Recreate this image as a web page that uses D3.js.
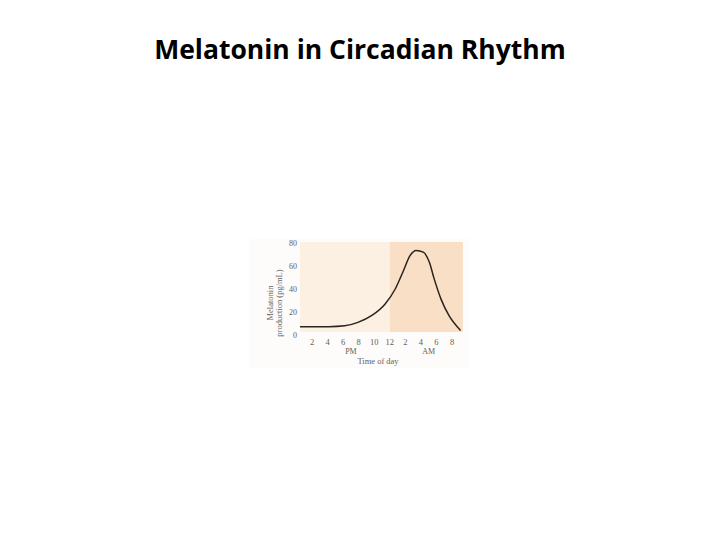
<!DOCTYPE html>
<html><head><meta charset="utf-8">
<script src="https://cdn.jsdelivr.net/npm/d3@7"></script>
<style>body{margin:0;background:#fff}svg{display:block}</style>
</head><body>
<svg id="c" width="720" height="540"></svg>
<script>
// hours after noon
const hours = [0.45, 2, 4.1, 6.2, 7.9, 9.7, 11.4, 12.7, 13.7, 14.6, 15.4, 16.3, 17.1, 17.7, 18.6, 19.6, 21.1];
const melatonin = [7.2, 7.1, 7.2, 8, 11, 17, 27, 40, 55, 69, 73.5, 72, 63, 49, 31, 17, 4];
const tickHours = [2, 4, 6, 8, 10, 12, 14, 16, 18, 20];
const tickLabels = ["2", "4", "6", "8", "10", "12", "2", "4", "6", "8"];
const yTicks = [0, 20, 40, 60, 80];
const yTickLabels = ["0", "20", "40", "60", "80"];
const nightStart = 12;

const svg = d3.select("#c");
svg.append("text").attr("x", 360).attr("y", 59).attr("text-anchor", "middle")
  .attr("font-family", "Open Sans, sans-serif").attr("font-weight", "bold")
  .attr("font-size", 26.5).attr("fill", "#000").text("Melatonin in Circadian Rhythm");

const x = d3.scaleLinear().domain([0, 20]).range([296.5, 452]);
const y = d3.scaleLinear().domain([0, 80]).range([335, 243]);
const xMin = 0.45, xMax = 21.4;

// image-like surround
svg.append("rect").attr("x", 249).attr("y", 239).attr("width", 221).attr("height", 129).attr("fill", "#fdfcfa");
svg.append("rect").attr("x", x(xMin)).attr("y", 242).attr("width", x(nightStart) - x(xMin)).attr("height", y(0) - 242 - 3)
  .attr("fill", "#fcf0e2");
svg.append("rect").attr("x", x(nightStart)).attr("y", 242).attr("width", x(xMax) - x(nightStart)).attr("height", y(0) - 242 - 3)
  .attr("fill", "#f9dfc5");

const line = d3.line().x((d, i) => x(hours[i])).y(d => y(d)).curve(d3.curveMonotoneX);
svg.append("path").datum(melatonin).attr("d", line).attr("fill", "none")
  .attr("stroke", "#2a2420").attr("stroke-width", 1.5);

const f = "Liberation Serif, serif";
const g = svg.append("g").attr("font-family", f).attr("fill", "#66615c");
g.selectAll(".xt").data(tickHours).enter().append("text")
  .attr("x", d => x(d)).attr("y", 345).attr("text-anchor", "middle").attr("font-size", 8.5)
  .text((d, i) => tickLabels[i]);
g.selectAll(".yt").data(yTicks).enter().append("text")
  .attr("x", 297).attr("y", d => y(d) + 3).attr("text-anchor", "end").attr("font-size", 8)
  .text((d, i) => yTickLabels[i]);
g.append("text").attr("x", x(7)).attr("y", 354).attr("text-anchor", "middle").attr("font-size", 8).text("PM");
g.append("text").attr("x", x(17)).attr("y", 354).attr("text-anchor", "middle").attr("font-size", 8).text("AM");
g.append("text").attr("x", 378).attr("y", 364).attr("text-anchor", "middle").attr("font-size", 8.5).text("Time of day");
g.append("text").attr("transform", "translate(273,303) rotate(-90)").attr("text-anchor", "middle").attr("font-size", 8.5).text("Melatonin");
g.append("text").attr("transform", "translate(282,303) rotate(-90)").attr("text-anchor", "middle").attr("font-size", 8.5).text("production (pg/mL)");
</script>
</body></html>
